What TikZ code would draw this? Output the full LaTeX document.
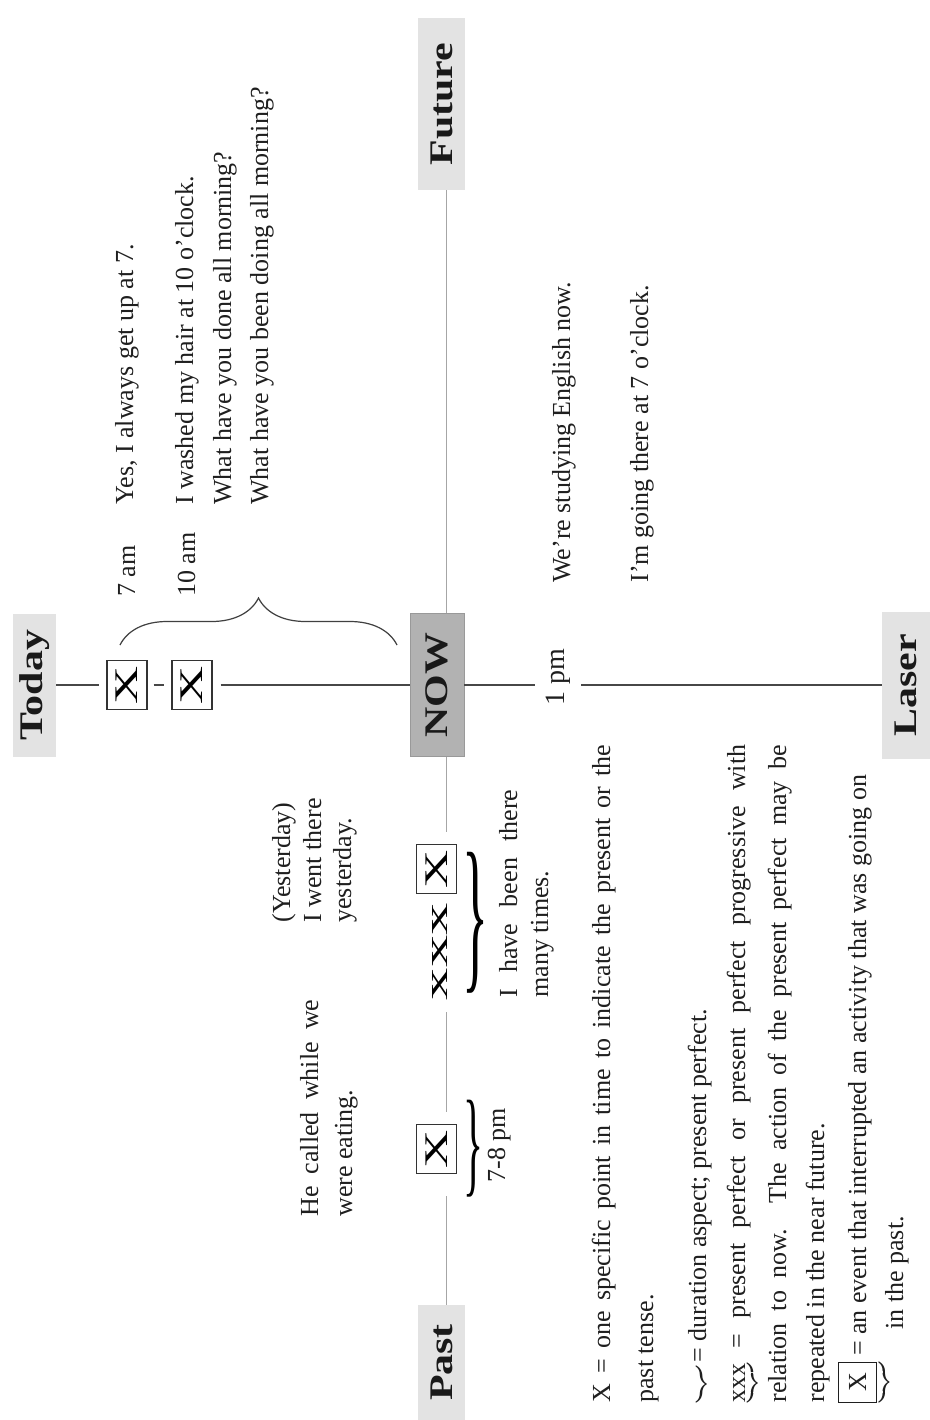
\documentclass[tikz,border=0pt]{standalone}
\usepackage{fontspec}
\usepackage{graphicx}
\setmainfont{Liberation Serif}
\usetikzlibrary{decorations.pathreplacing}
\newcommand\bodyfs{\fontsize{13pt}{15pt}\selectfont}
\newcommand\lblfs{\fontsize{16.5pt}{18pt}\selectfont\bfseries}
\newcommand\widelbl[1]{\scalebox{1.27}[1]{#1}}
\newcommand\xmark{\scalebox{1.6}[1]{\fontsize{16.5pt}{18pt}\selectfont X}}
\begin{document}
\begin{tikzpicture}[x=0.5pt,y=-0.5pt,
  rt/.style={rotate=90, anchor=base west, inner sep=0pt, font=\bodyfs, text=black!88},
  lblbox/.style={rotate=90, fill=black!11, inner sep=0pt, font=\lblfs, text=black!90},
  xbox/.style={rotate=90, draw=black!80, line width=0.6pt, fill=white, inner sep=0pt, minimum width=24.5pt, minimum height=20pt},
  mainline/.style={draw=black!72, line width=0.8pt},
  axisline/.style={draw=black!35, line width=0.5pt},
  tbrace/.style={draw=black!75, line width=0.6pt, decorate, decoration={brace, amplitude=23.5pt}}]
\path[use as bounding box, clip] (0,0) rectangle (930,1420);
\fill[white] (0,0) rectangle (930,1420);

% label boxes
\node[lblbox, minimum width=86pt, minimum height=23.5pt] (future) at (441.5,104) {\widelbl{Future}};
\node[lblbox, minimum width=71.5pt, minimum height=21.5pt] (today) at (34.5,685) {\widelbl{Today}};
\node[lblbox, fill=black!30, draw=black!40, minimum width=71.5pt, minimum height=27pt] (now) at (437,685) {\widelbl{NOW}};
\node[lblbox, minimum width=73.5pt, minimum height=24pt] (laser) at (906,685) {\widelbl{Laser}};
\node[lblbox, minimum width=57.5pt, minimum height=23.5pt] (past) at (441.5,1362.5) {\widelbl{Past}};

% X boxes
\node[xbox] (bx1) at (127,685) {\xmark};
\node[xbox] (bx2) at (192,685) {\xmark};
\node[xbox] (bx3) at (436.5,869) {\xmark};
\node[xbox] (bx4) at (436.5,1149) {\xmark};
\node[rotate=90, inner sep=0pt] (xxx) at (440,951.5) {\resizebox*{48.5pt}{7.5pt}{xxx}};

% 1 pm
\node[rotate=90, inner xsep=0pt, inner ysep=5.25pt, font=\fontsize{14pt}{16pt}\selectfont, text=black!88] (onepm) at (558,677.5) {1 pm};

% main (Today) line
\draw[mainline, shorten >=3.5pt] (today) -- (bx1);
\draw[mainline, shorten <=3pt, shorten >=3.5pt] (bx1) -- (bx2);
\draw[mainline, shorten <=4pt] (bx2) -- (now);
\draw[mainline] (now) -- (now -| onepm.north);
\draw[mainline] (now -| onepm.south) -- (laser);

% axis (Past - Future) line
\coordinate (vx) at (446,0);
\draw[axisline] (vx |- future.west) -- (vx |- now.east);
\draw[axisline, shorten >=6pt] (vx |- now.west) -- (vx |- bx3.east);
\draw[axisline, shorten <=6pt, shorten >=6pt] (vx |- xxx.west) -- (vx |- bx4.east);
\draw[axisline, shorten <=11pt] (vx |- bx4.west) -- (vx |- past.east);

% braces
\coordinate (tbl) at (120,645);
\coordinate (tbr) at (397,645);
\draw[tbrace] (tbl) -- (tbr);
\node[inner sep=0pt, text=black] (br1) at (475,922.5) {\resizebox*{13pt}{70.5pt}{\}}};
\node[inner sep=0pt, text=black] (br2) at (473,1148.5) {\resizebox*{10pt}{48.5pt}{\}}};

% today texts
\node[rt] (t7am) at (135,597) {7 am};
\node[rt] (t10am) at (195,597) {10 am};
\node[rt] (tyes) at (133,505) {Yes, I always get up at 7.};
\node[rt] (twash) at (193,505) {I washed my hair at 10 o’clock.};
\node[rt] (tdone) at (231,505) {What have you done all morning?};
\node[rt] (tbeen) at (268,505) {What have you been doing all morning?};

% future side
\node[rt] (tstudy) at (570,583) {We’re studying English now.};
\node[rt] (tgoing) at (648,583) {I’m going there at 7 o’clock.};

% past side
\node[rt] (tyest1) at (290,923) {(Yesterday)};
\node[rt] (tyest2) at (321,923) {I went there};
\node[rt] (tyest3) at (351,923) {yesterday.};
\node[rt] (tcall1) at (318,1217) {\makebox[108.5pt][s]{He called while we}};
\node[rt] (tcall2) at (352,1217) {were eating.};
\node[rt] (thave1) at (517,998) {\makebox[104pt][s]{I have been there}};
\node[rt] (thave2) at (548,998) {many times.};
\node[rt] (t78) at (505,1183) {7-8 pm};

% legend
\node[rt] (l1) at (610,1403) {\makebox[329pt][s]{X = one specific point in time to indicate the present or the}};
\node[rt] (l2) at (653,1403) {past tense.};
\node[rt] (l3) at (706,1403) {\raisebox{6pt}{$\underbrace{\hbox to 9pt{}}$}\,= duration aspect; present perfect.};
\node[rt] (l4) at (745,1403) {\makebox[329pt][s]{$\underbrace{\mbox{xxx}}$ = present perfect or present perfect progressive with}};
\node[rt] (l5) at (786,1403) {\makebox[329pt][s]{relation to now. The action of the present perfect may be}};
\node[rt] (l6) at (824,1403) {repeated in the near future.};
\node[rt] (l7) at (866,1403) {$\underbrace{\setlength{\fboxsep}{5pt}\fbox{X}}$ = an event that interrupted an activity that was going on};
\node[rt] (l8) at (903,1330) {in the past.};
\end{tikzpicture}
\end{document}
